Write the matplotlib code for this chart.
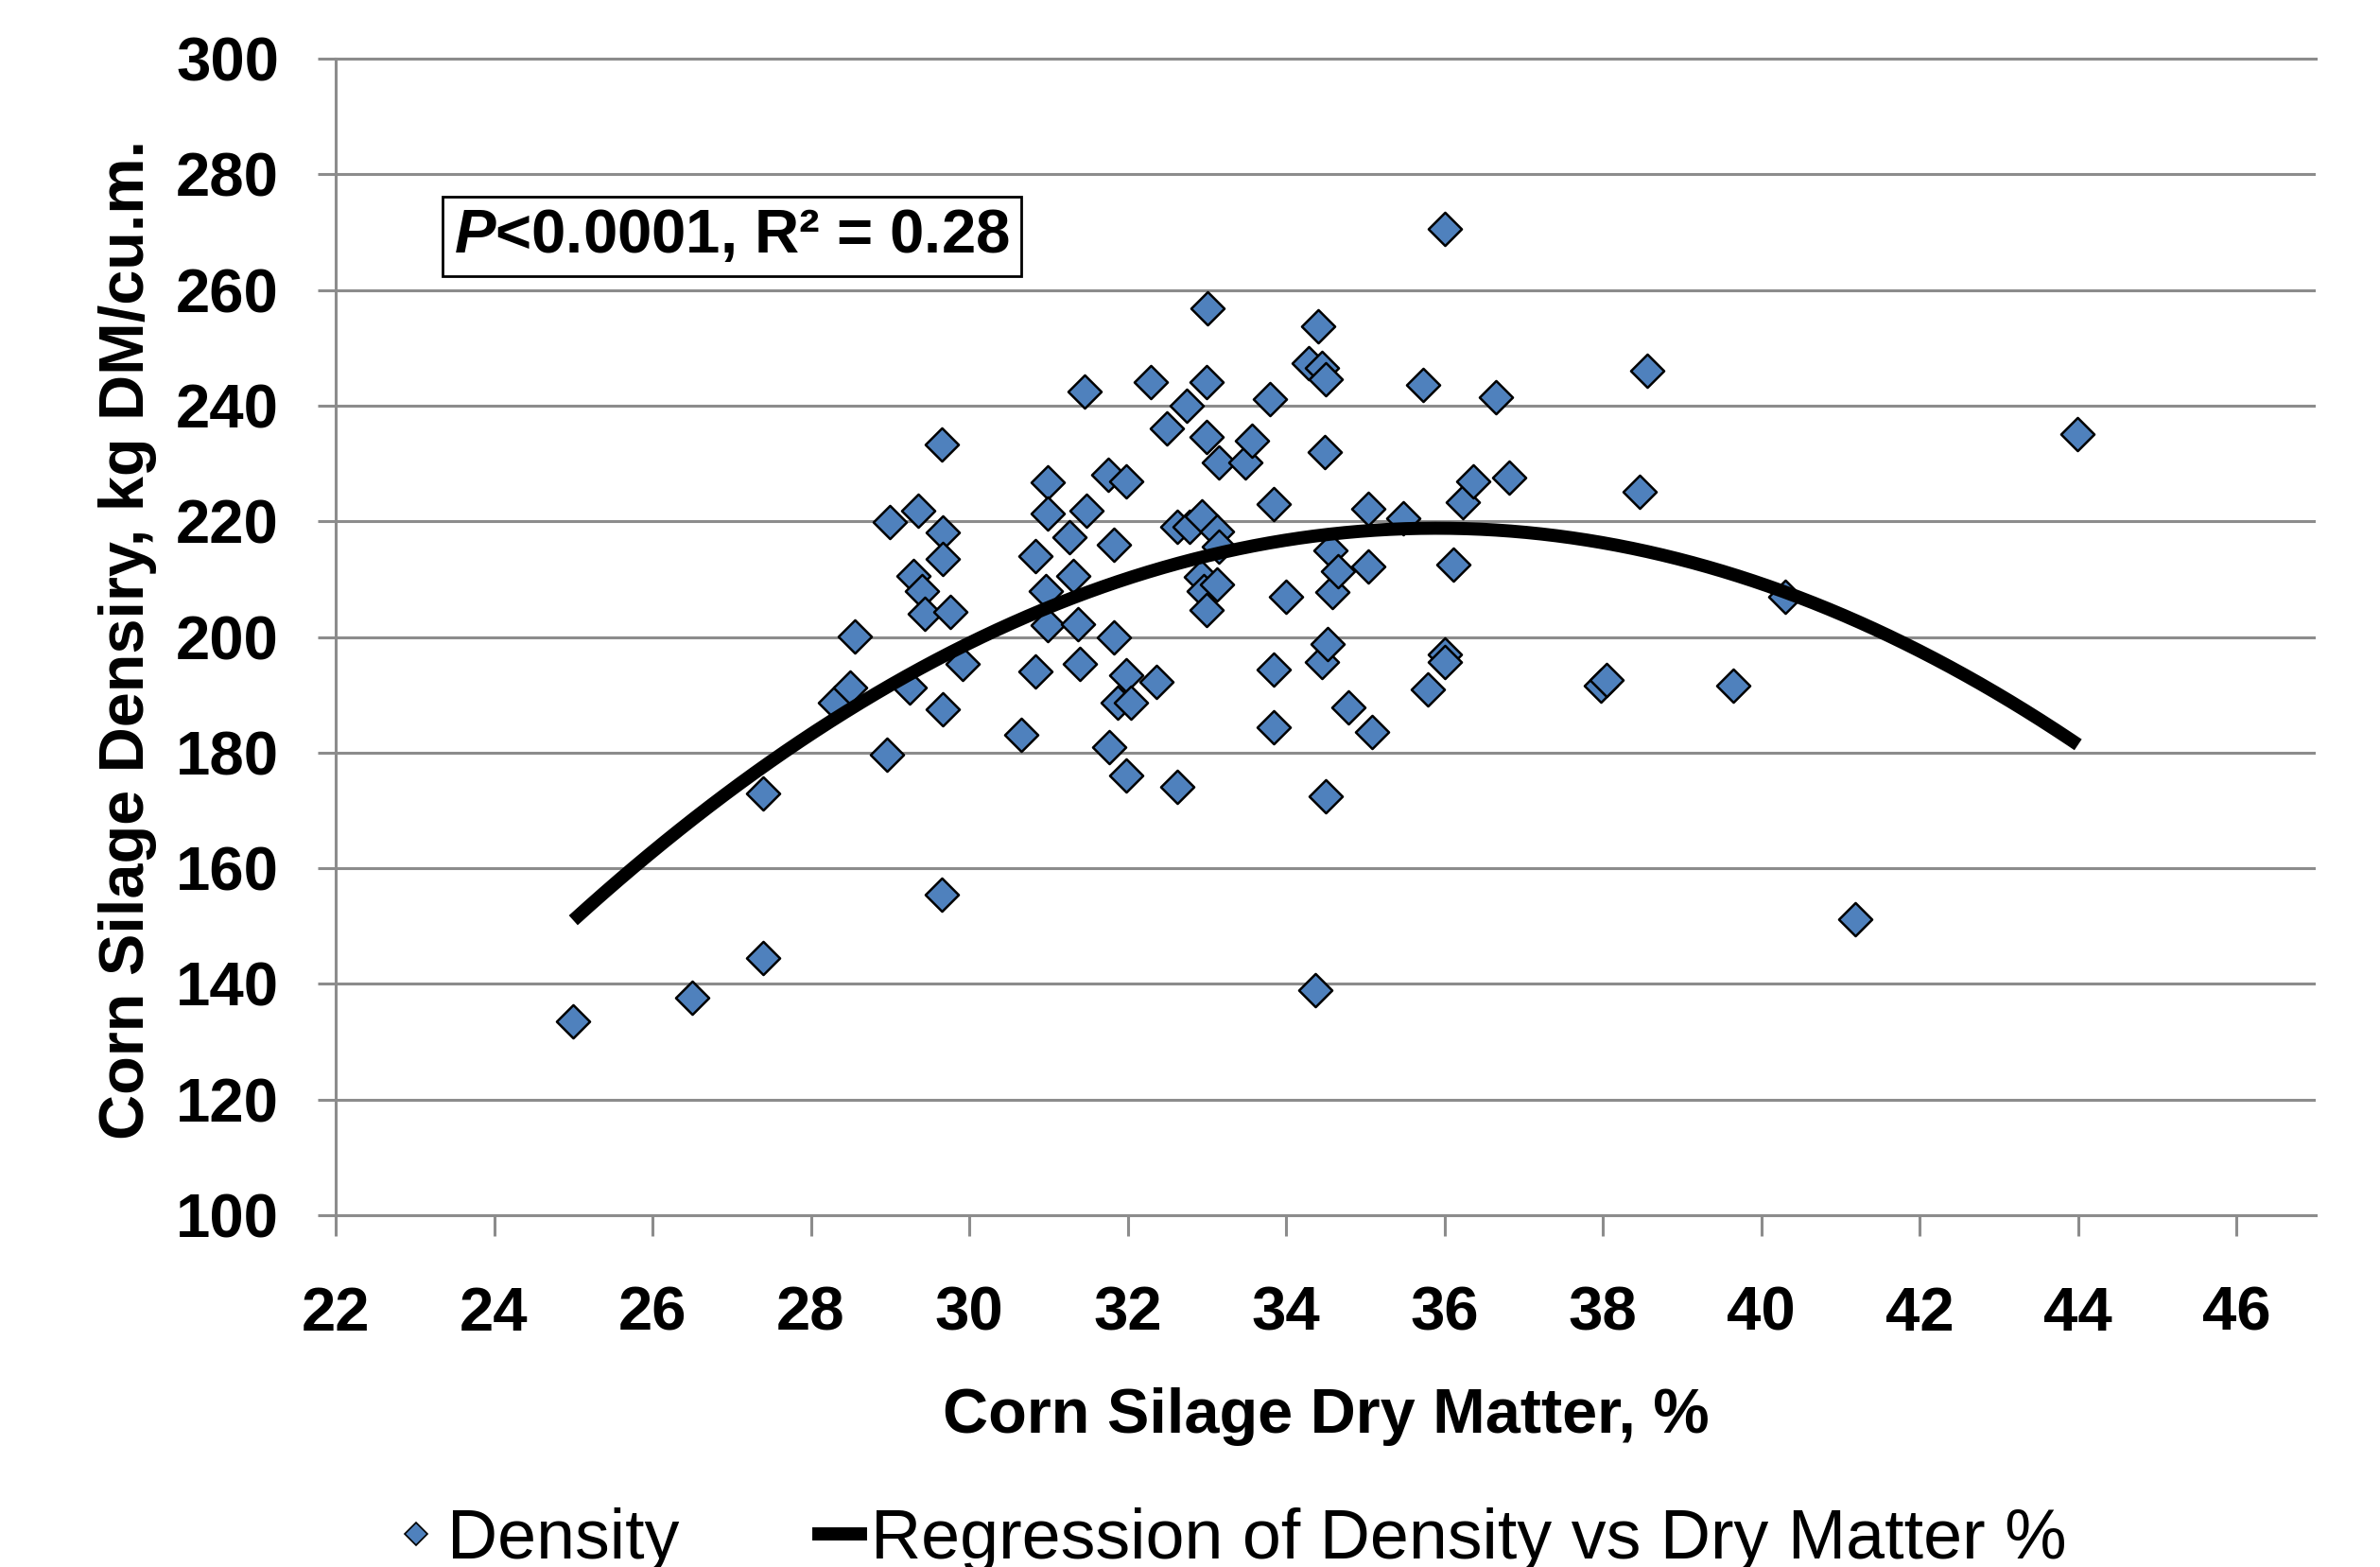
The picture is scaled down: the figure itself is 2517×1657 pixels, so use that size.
import numpy as np
import matplotlib
matplotlib.use("Agg")
import matplotlib.pyplot as plt
from matplotlib.lines import Line2D

plt.rcParams['font.family'] = ['Liberation Sans', 'DejaVu Sans']
plt.rcParams['mathtext.fontset'] = 'custom'
plt.rcParams['mathtext.it'] = 'Liberation Sans:italic:bold'
plt.rcParams['mathtext.rm'] = 'Liberation Sans:bold'

# ---- data ----
dry_matter = [25.0, 26.5, 27.4, 27.4, 28.3, 28.5, 28.55, 28.96, 29.0, 29.25,
              29.3, 29.36, 29.4, 29.44, 29.65, 29.67, 29.67, 29.67, 29.65, 29.76,
              29.92, 30.66, 30.83, 30.83, 30.99, 30.99, 30.97, 30.99, 31.27, 31.31,
              31.37, 31.39, 31.46, 31.48, 31.75, 31.77, 31.83, 31.83, 31.87, 31.98,
              31.98, 31.98, 32.04, 32.29, 32.36, 32.5, 32.63, 32.63, 32.75, 32.78,
              32.99, 33.01, 32.99, 32.94, 32.92, 32.96, 32.99, 33.13, 33.13, 33.15,
              33.15, 33.49, 33.57, 33.8, 33.84, 33.84, 33.84, 34.0, 34.29, 34.41,
              34.45, 34.5, 34.49, 34.45, 34.5, 34.52, 34.56, 34.58, 34.66, 34.37,
              34.79, 35.04, 35.04, 35.08, 35.48, 35.73, 35.79, 36.0, 36.0, 36.0,
              36.11, 36.23, 36.36, 36.65, 36.82, 37.98, 38.04, 38.46, 38.56, 39.65,
              40.3, 41.18, 43.99]
density = [133.6, 137.6, 144.4, 173.0, 188.6, 191.2, 200.1, 179.6, 219.8, 191.2,
           210.6, 221.9, 208.0, 204.0, 233.2, 218.0, 213.5, 187.5, 155.4, 204.3,
           195.4, 183.0, 214.0, 194.1, 226.7, 221.4, 208.0, 202.0, 217.2, 210.6,
           202.2, 195.4, 242.4, 221.9, 228.0, 180.9, 215.9, 199.9, 188.6, 226.9,
           193.3, 176.0, 188.6, 244.0, 192.2, 236.1, 174.1, 219.0, 240.0, 219.0,
           244.0, 256.9, 234.6, 220.9, 210.4, 208.0, 204.6, 218.3, 209.1, 230.1,
           215.6, 230.1, 234.0, 241.1, 223.0, 194.4, 184.4, 207.0, 247.4, 253.7,
           246.6, 244.5, 231.9, 195.6, 172.5, 198.8, 214.9, 207.8, 211.4, 138.9,
           187.8, 222.2, 212.2, 183.6, 220.6, 243.5, 190.9, 270.6, 197.0, 195.6,
           212.5, 223.3, 226.9, 241.4, 227.5, 191.5, 192.5, 225.1, 246.1, 191.5,
           207.0, 151.2, 235.1]

# quadratic regression (vertex form)
reg_x_range = [25.0, 44.0]
reg_peak_x = 35.9
reg_peak_y = 218.8
reg_curvature = 0.5707

x_ticks = [22, 24, 26, 28, 30, 32, 34, 36, 38, 40, 42, 44, 46]
y_ticks = [100, 120, 140, 160, 180, 200, 220, 240, 260, 280, 300]

W, H = 2517, 1657
fig = plt.figure(figsize=(W / 100, H / 100), dpi=100)
L, R, T, B = 355, 2449, 62, 1285
ax = fig.add_axes([L / W, 1 - B / H, (R - L) / W, (B - T) / H])

grid_col = '#8c8c8c'
ax.set_xlim(22, 47)
ax.set_ylim(100, 300)
ax.set_xticks(x_ticks)
ax.set_yticks(y_ticks)
ax.yaxis.grid(True, color=grid_col, linewidth=2.2)
ax.set_axisbelow(True)
ax.spines['right'].set_visible(False)
for s in ['left', 'bottom', 'top']:
    ax.spines[s].set_color(grid_col)
    ax.spines[s].set_linewidth(2.2)

ax.tick_params(axis='y', length=13.7, width=2.2, color=grid_col, pad=29.5,
               labelsize=47)
ax.tick_params(axis='x', length=15.8, width=2.2, color=grid_col, pad=38,
               labelsize=47)
for lab in ax.get_xticklabels() + ax.get_yticklabels():
    lab.set_fontweight('bold')

ax.scatter(dry_matter, density, marker='D', s=320, c='#4F81BD',
           edgecolors='black', linewidths=1.8, zorder=3)

xr = np.linspace(reg_x_range[0], reg_x_range[1], 200)
coef = [-reg_curvature, 2 * reg_curvature * reg_peak_x,
        reg_peak_y - reg_curvature * reg_peak_x ** 2]
ax.plot(xr, np.polyval(coef, xr), color='black', linewidth=10,
        solid_capstyle='butt', zorder=4)

ax.text((480 - L) / (R - L), (B - 267) / (B - T),
        r'$P$<0.0001, R² = 0.28', transform=ax.transAxes,
        fontsize=47, fontweight='bold', ha='left', va='baseline',
        bbox=dict(boxstyle='square,pad=0.19', facecolor='white',
                  edgecolor='black', linewidth=2), zorder=5)

fig.text((L + R) / 2 / W, 1 - 1515 / H, 'Corn Silage Dry Matter, %',
         fontsize=48, fontweight='bold', ha='center', va='baseline')
fig.text(152 / W, 1 - 676 / H, 'Corn Silage Densiry, kg DM/cu.m.',
         fontsize=48, fontweight='bold', rotation=90, rotation_mode='anchor',
         ha='center', va='baseline')

handles = [Line2D([], [], linestyle='none', marker='D', markersize=12,
                  markerfacecolor='#4F81BD', markeredgecolor='black',
                  markeredgewidth=1.2),
           Line2D([], [], color='black', linewidth=10)]
fig.legend(handles, ['Density', 'Regression of Density vs Dry Matter %'],
           loc='upper left', bbox_to_anchor=(418 / W, 1 - 1594 / H),
           ncol=2, frameon=False, fontsize=53, handlelength=0.6,
           handletextpad=0.15, columnspacing=2.0, borderaxespad=0,
           borderpad=0)

fig.savefig('out.png', dpi=100)
